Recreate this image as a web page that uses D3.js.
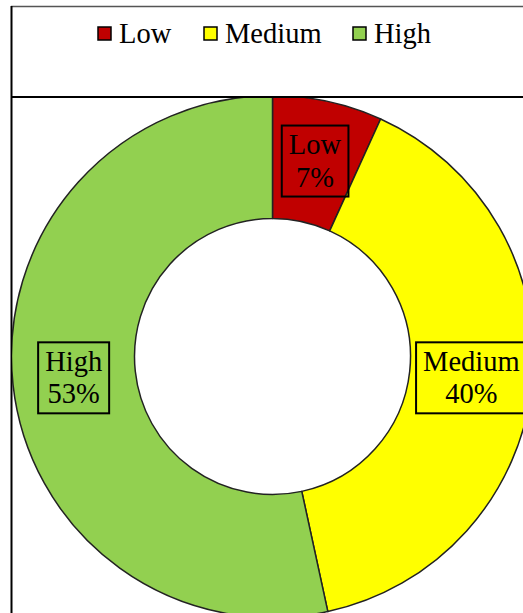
<!DOCTYPE html>
<html>
<head>
<meta charset="utf-8">
<script src="https://cdn.jsdelivr.net/npm/d3@7"></script>
<style>
  body { margin: 0; background: #fff; }
  text { font-family: "Liberation Serif", "Times New Roman", serif; fill: #000; }
</style>
</head>
<body>
<div class="chart"></div>
<script>
// DATA ------------------------------
const categories = ['Low', 'Medium', 'High'];
const shares = [6.8, 39.8, 53.4];
const colors = ['#C00000', '#FFFF00', '#92D050'];

const width = 523, height = 613;

let svg = d3.select('.chart')
    .append('svg')
    .attr('width', width)
    .attr('height', height);

// frame lines
svg.append('line')
    .attr('x1', 11).attr('x2', width).attr('y1', 6.5).attr('y2', 6.5)
    .attr('stroke', '#555').attr('stroke-width', 1.5);
svg.append('line')
    .attr('x1', 11.5).attr('x2', 11.5).attr('y1', 6).attr('y2', height)
    .attr('stroke', '#000').attr('stroke-width', 2);

// legend
const legendX = [98, 204, 353];
const legend = svg.append('g');
categories.forEach((c, i) => {
    legend.append('rect')
        .attr('x', legendX[i]).attr('y', 27)
        .attr('width', 13).attr('height', 13)
        .attr('fill', colors[i])
        .attr('stroke', '#000').attr('stroke-width', 1.5);
    legend.append('text')
        .attr('x', legendX[i] + 21).attr('y', 43)
        .attr('font-size', 28.5)
        .text(c);
});

// plot area, clipped
svg.append('clipPath').attr('id', 'plot')
    .append('rect')
    .attr('x', 12).attr('y', 97)
    .attr('width', width - 12).attr('height', height - 97);

const plot = svg.append('g').attr('clip-path', 'url(#plot)');
const cx = 272.5, cy = 356.5, rOuter = 261, rInner = 138;
const g = plot.append('g').attr('transform', `translate(${cx},${cy})`);

const pie = d3.pie().sort(null).value(d => d.value);
const arc = d3.arc().innerRadius(rInner).outerRadius(rOuter);
const labelArc = d3.arc().innerRadius(200).outerRadius(200);

const data = categories.map((c, i) => ({ name: c, value: shares[i], color: colors[i] }));
const arcs = pie(data);

g.selectAll('path')
    .data(arcs)
    .enter()
    .append('path')
    .attr('d', arc)
    .attr('fill', d => d.data.color)
    .attr('stroke', '#222')
    .attr('stroke-width', 1.5)
    .attr('stroke-linejoin', 'round');

// data labels with boxes
const labels = g.selectAll('.label')
    .data(arcs)
    .enter()
    .append('g')
    .attr('class', 'label')
    .attr('transform', d => {
        const [x, y] = labelArc.centroid(d);
        return `translate(${x},${y})`;
    });

labels.each(function(d) {
    const lg = d3.select(this);
    const t = lg.append('text')
        .attr('text-anchor', 'middle')
        .attr('font-size', 28.5);
    t.append('tspan').attr('x', 0).attr('y', -7).text(d.data.name);
    t.append('tspan').attr('x', 0).attr('y', 25.5).text(Math.round(d.data.value) + '%');
    const bb = t.node().getBBox();
    lg.insert('rect', 'text')
        .attr('x', bb.x - 7).attr('y', -35.5)
        .attr('width', bb.width + 14).attr('height', 71)
        .attr('fill', 'none')
        .attr('stroke', '#000').attr('stroke-width', 2);
});

// separator line under legend
svg.append('line')
    .attr('x1', 11).attr('x2', width).attr('y1', 97).attr('y2', 97)
    .attr('stroke', '#000').attr('stroke-width', 2);
</script>
</body>
</html>
